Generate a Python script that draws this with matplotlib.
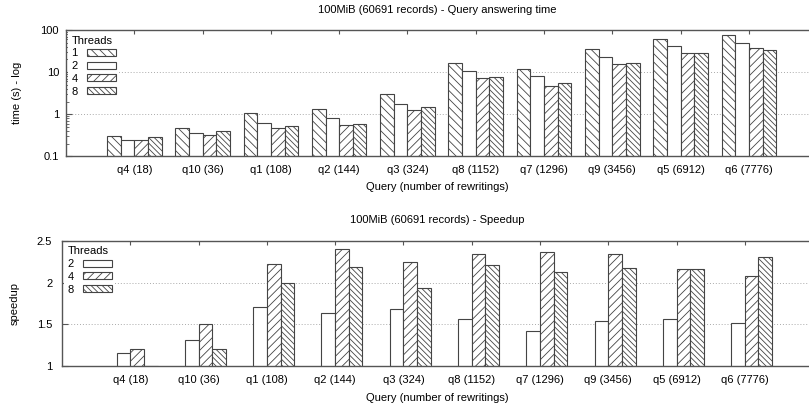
import matplotlib
matplotlib.use("Agg")
import matplotlib.pyplot as plt
import numpy as np

plt.rcParams["font.family"] = ["Liberation Sans", "DejaVu Sans"]
plt.rcParams["font.size"] = 8
plt.rcParams["hatch.linewidth"] = 0.6
plt.rcParams["hatch.color"] = "#333333"

queries = ["q4 (18)", "q10 (36)", "q1 (108)", "q2 (144)", "q3 (324)",
           "q8 (1152)", "q7 (1296)", "q9 (3456)", "q5 (6912)", "q6 (7776)"]

# query answering time (s), per thread count
time_1 = [0.30, 0.47, 1.06, 1.32, 2.99, 16.4, 12.0, 35.3, 62.0, 76.0]
time_2 = [0.25, 0.36, 0.61, 0.80, 1.73, 10.4, 8.0, 22.8, 41.6, 49.0]
time_4 = [0.24, 0.32, 0.46, 0.56, 1.27, 7.2, 4.8, 15.2, 28.8, 37.0]
time_8 = [0.28, 0.39, 0.53, 0.59, 1.47, 7.5, 5.5, 16.4, 28.8, 33.4]

# speedup vs 1 thread
speed_2 = [1.16, 1.31, 1.71, 1.64, 1.69, 1.57, 1.42, 1.54, 1.56, 1.52]
speed_4 = [1.21, 1.51, 2.22, 2.40, 2.24, 2.34, 2.37, 2.34, 2.16, 2.08]
speed_8 = [1.005, 1.21, 1.99, 2.18, 1.94, 2.21, 2.13, 2.17, 2.16, 2.30]

threads = ["1", "2", "4", "8"]
hatches = {"1": "\\\\\\\\", "2": "", "4": "////", "8": "\\\\\\\\\\\\"}
EDGE = "#444444"
W, H = 809, 411

fig = plt.figure(figsize=(W / 100, H / 100), dpi=100)
ax1 = fig.add_axes([66 / W, 1 - 156.3 / H, 1 - 66 / W, (156.3 - 30) / H])
ax2 = fig.add_axes([62 / W, 1 - 366.3 / H, 1 - 62 / W, (366.3 - 240.7) / H])

x = np.arange(len(queries))
bw = 0.2
offsets = {"1": -0.3, "2": -0.1, "4": 0.1, "8": 0.3}

for t, vals in zip(threads, [time_1, time_2, time_4, time_8]):
    ax1.bar(x + offsets[t], np.array(vals) - 0.01, bw, bottom=0.01, color="white",
            edgecolor=EDGE, linewidth=0.8, hatch=hatches[t], label=t)
for t, vals in zip(threads[1:], [speed_2, speed_4, speed_8]):
    ax2.bar(x + offsets[t], vals, bw, color="white",
            edgecolor=EDGE, linewidth=0.8, hatch=hatches[t], label=t)

ax1.set_yscale("log")
ax1.set_ylim(0.1, 100)
ax1.set_yticks([0.1, 1, 10, 100])
ax1.set_yticklabels(["0.1", "1", "10", "100"])
ax1.set_xlim(-1, 9.88)

ax2.set_ylim(1, 2.5)
ax2.set_yticks([1, 1.5, 2, 2.5])
ax2.set_yticklabels(["1", "1.5", "2", "2.5"])
ax2.set_xlim(-1, 9.94)

for ax, ypad in [(ax1, 5), (ax2, 7)]:
    ax.set_xticks(x)
    ax.set_xticklabels(queries)
    ax.tick_params(axis="x", direction="in", top=True, bottom=False, length=3,
                   pad=6, color="#555555")
    ax.tick_params(axis="y", which="both", direction="in", right=False,
                   pad=ypad, color="#555555")
    ax.tick_params(axis="y", which="major", length=4)
    ax.tick_params(axis="y", which="minor", length=2)
    ax.spines["right"].set_visible(False)
    for s in ["left", "top", "bottom"]:
        ax.spines[s].set_color("#555555")
        ax.spines[s].set_linewidth(1.0)
    ax.set_axisbelow(True)
    ax.yaxis.grid(True, which="major", linestyle=(0, (1, 2)), color="#aaaaaa",
                  linewidth=0.7)
    leg = ax.legend(title="Threads", loc="upper left", markerfirst=False,
                    frameon=True, fancybox=False, edgecolor="none",
                    facecolor="white", framealpha=1, borderaxespad=0.2,
                    handlelength=2.6, handleheight=0.6, handletextpad=0.8,
                    labelspacing=0.25, borderpad=0.3, fontsize=8,
                    title_fontsize=8, alignment="left")

fig.text(437 / W, 1 - 10 / H, "100MiB (60691 records) - Query answering time",
         ha="center", va="center")
fig.text(437 / W, 1 - 220 / H, "100MiB (60691 records) - Speedup",
         ha="center", va="center")
fig.text(437 / W, 1 - 187 / H, "Query (number of rewritings)",
         ha="center", va="center")
fig.text(437 / W, 1 - 398 / H, "Query (number of rewritings)",
         ha="center", va="center")
fig.text(17 / W, 1 - 93 / H, "time (s) - log", rotation=90,
         ha="center", va="center")
fig.text(15 / W, 1 - 303 / H, "speedup", rotation=90,
         ha="center", va="center")

fig.savefig("out.png", dpi=100)
